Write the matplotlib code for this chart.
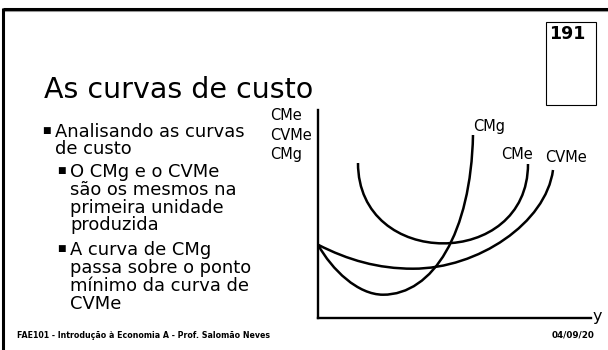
import matplotlib
matplotlib.use('Agg')
import matplotlib.pyplot as plt
from matplotlib.patches import Rectangle, PathPatch
from matplotlib.path import Path

plt.rcParams['font.family'] = ['DejaVu Sans']

# slide texts
title = 'As curvas de custo'
page_number = '191'
bullet_main = ['Analisando as curvas', 'de custo']
bullet_sub1 = ['O CMg e o CVMe', 'são os mesmos na', 'primeira unidade', 'produzida']
bullet_sub2 = ['A curva de CMg', 'passa sobre o ponto', 'mínimo da curva de', 'CVMe']
footer = 'FAE101 - Introdução à Economia A - Prof. Salomão Neves'
date = '04/09/20'
y_label = ['CMe', 'CVMe', 'CMg']
x_label = 'y'

# curves as bezier points (quantity, cost)
# anchor, ctrl, ctrl, anchor[, ctrl, ctrl, anchor]
cme_x = [40, 40, 210, 210]
cme_y = [155, 48, 48, 154]

cvme_x = [0, 30, 60, 95, 160, 228, 235]
cvme_y = [73.3, 58, 49.3, 49.3, 49.3, 95, 148]

cmg_x = [0, 14, 40, 65, 115, 153, 155]
cmg_y = [73.3, 48, 23.3, 23.3, 23.3, 85, 183]

W, H = 608, 350
fig = plt.figure(figsize=(6.08, 3.5), dpi=100)

# page overlay in pixel coordinates
page = fig.add_axes([0, 0, 1, 1])
page.set_xlim(0, W)
page.set_ylim(H, 0)
page.axis('off')

# slide frame (top and left)
page.plot([3, W], [10.5, 10.5], color='#9a9a9a', lw=1.5, solid_capstyle='butt')
page.plot([3, W], [9, 9], color='black', lw=2.2, solid_capstyle='butt')
page.plot([3, 3], [8, H], color='black', lw=2.2, solid_capstyle='butt')

# page number box
page.add_patch(Rectangle((546, 22), 50, 83, fill=False, ec='black', lw=0.8))
page.text(549, 25, page_number, fontsize=12.5, fontweight='bold', va='top', ha='left')

page.text(44, 98, title, fontsize=20.5, va='baseline', ha='left')

fs = 12.9
y0 = 132
for i, line in enumerate(bullet_main):
    page.text(55, y0 + i * 17.5, line, fontsize=fs, va='center')
page.text(42, y0 - 1, '■', fontsize=6.5, va='center')

y1 = 172
for i, line in enumerate(bullet_sub1):
    page.text(70, y1 + i * 17.8, line, fontsize=fs, va='center')
page.text(57, y1 - 1, '■', fontsize=6.5, va='center')

y2 = 250
for i, line in enumerate(bullet_sub2):
    page.text(70, y2 + i * 18, line, fontsize=fs, va='center')
page.text(57, y2 - 1, '■', fontsize=6.5, va='center')

page.text(17, 335, footer, fontsize=5.7, fontweight='bold', va='center')
page.text(595, 335, date, fontsize=6.3, fontweight='bold', va='center', ha='right')

for i, lab in enumerate(y_label):
    page.text(270, 115 + i * 20, lab, fontsize=10.5, va='center')
page.text(593, 316, x_label, fontsize=11.5, va='center')

# chart
ax = fig.add_axes([318 / W, (H - 318) / H, (591 - 318) / W, (318 - 110) / H])
ax.set_xlim(0, 273)
ax.set_ylim(0, 208)
ax.patch.set_alpha(0)
for s in ['top', 'right']:
    ax.spines[s].set_visible(False)
for s in ['left', 'bottom']:
    ax.spines[s].set_linewidth(1.7)
ax.set_xticks([])
ax.set_yticks([])


def curve(xs, ys):
    codes = [Path.MOVETO] + [Path.CURVE4] * (len(xs) - 1)
    p = Path(list(zip(xs, ys)), codes)
    ax.add_patch(PathPatch(p, fill=False, ec='black', lw=1.8))


curve(cme_x, cme_y)
curve(cvme_x, cvme_y)
curve(cmg_x, cmg_y)

ax.annotate('CMg', (cmg_x[-1], cmg_y[-1]), xytext=(0, 6), textcoords='offset points', fontsize=10.5, va='center')
ax.annotate('CMe', (cme_x[-1], cme_y[-1]), xytext=(-19, 7), textcoords='offset points', fontsize=10.5, va='center')
ax.annotate('CVMe', (cvme_x[-1], cvme_y[-1]), xytext=(-6, 9), textcoords='offset points', fontsize=10.5, va='center')

fig.savefig('out.png', dpi=100)
